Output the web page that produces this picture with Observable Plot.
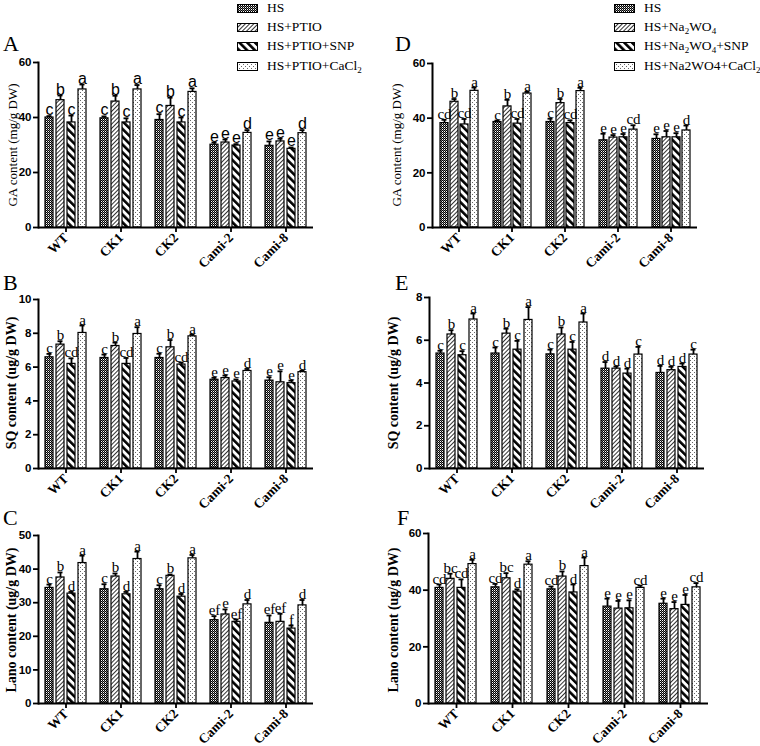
<!DOCTYPE html>
<html><head><meta charset="utf-8">
<script src="https://cdn.jsdelivr.net/npm/d3@7"></script>
<script src="https://cdn.jsdelivr.net/npm/@observablehq/plot@0.6"></script>
<style>
body{margin:0;background:#fff;}
#root{position:relative;width:760px;height:746px;overflow:hidden;font-family:"Liberation Serif","Times New Roman",serif;color:#000;}
.pl{position:absolute;font-size:22px;line-height:1;}
.ylab{position:absolute;transform:translate(-50%,-50%) rotate(-90deg);white-space:nowrap;font-size:13px;line-height:1;}
.ylab.b{font-weight:bold;font-size:14px;}
.lrow{position:absolute;height:16px;display:flex;align-items:center;font-size:13.5px;white-space:nowrap;line-height:16px;}
.lrow svg{margin-right:9px;}
.lrow sub{font-size:9px;vertical-align:-3px;line-height:0;}
</style></head>
<body>
<svg width="0" height="0" style="position:absolute">
<defs>
<pattern id="pHS" patternUnits="userSpaceOnUse" width="2" height="2">
 <rect width="2" height="2" fill="#fff"/>
 <rect x="0" y="0" width="1" height="1" fill="#000"/>
 <rect x="1" y="1" width="1" height="1" fill="#000"/>
 <rect x="1" y="0" width="1" height="1" fill="#777"/>
</pattern>
<pattern id="pPT" patternUnits="userSpaceOnUse" width="3" height="3" patternTransform="rotate(45)">
 <rect width="3" height="3" fill="#fff"/>
 <line x1="0.5" y1="0" x2="0.5" y2="3" stroke="#333" stroke-width="1"/>
</pattern>
<pattern id="pSNP" patternUnits="userSpaceOnUse" width="5.5" height="5.5" patternTransform="rotate(-45)">
 <rect width="5.5" height="5.5" fill="#fff"/>
 <line x1="1.3" y1="0" x2="1.3" y2="5.5" stroke="#000" stroke-width="2.6"/>
</pattern>
<pattern id="pCA" patternUnits="userSpaceOnUse" width="4" height="4">
 <rect width="4" height="4" fill="#fff"/>
 <rect x="0" y="0" width="1" height="1" fill="#666"/>
 <rect x="2" y="2" width="1" height="1" fill="#666"/>
</pattern>
</defs>
</svg>
<div id="root"></div>
<script>
// ---------- data ----------
const genotypes = ["WT", "CK1", "CK2", "Cami-2", "Cami-8"];
const treatPtio = ["HS", "HS+PTIO", "HS+PTIO+SNP", "HS+PTIO+CaCl2"];
const treatNa = ["HS", "HS+Na2WO4", "HS+Na2WO4+SNP", "HS+Na2WO4+CaCl2"];
const patternIds = ["url(#pHS)", "url(#pPT)", "url(#pSNP)", "url(#pCA)"];

// A: GA content (mg/g DW), PTIO series
const gaPtioMean = [[40.0,46.3,38.2,50.2],[39.7,45.8,38.2,50.2],[39.1,44.2,38.2,49.3],[30.1,30.9,29.8,34.4],[29.7,31.3,28.6,34.3]];
const gaPtioErr  = [[0.5,1.7,2.5,1.8],[0.7,2.1,1.5,1.6],[2.1,3.0,1.8,1.3],[0.8,1.1,0.5,1.0],[1.6,1.0,0.5,1.1]];
const gaPtioSig  = [["c","b","c","a"],["c","b","c","a"],["c","b","c","a"],["e","e","e","d"],["e","e","e","d"]];

// B: SQ content (ug/g DW), PTIO series
const sqPtioMean = [[6.58,7.33,6.19,8.02],[6.54,7.25,6.19,7.96],[6.54,7.17,6.15,7.82],[5.25,5.35,5.15,5.77],[5.2,5.1,5.05,5.7]];
const sqPtioErr  = [[0.2,0.2,0.33,0.44],[0.2,0.2,0.35,0.4],[0.25,0.43,0.12,0.1],[0.12,0.15,0.12,0.12],[0.2,0.65,0.15,0.08]];
const sqPtioSig  = [["c","b","cd","a"],["c","b","cd","a"],["c","b","cd","a"],["e","e","e","d"],["e","e","e","d"]];

// C: Lano content (ug/g DW), PTIO series
const lanoPtioMean = [[34.4,37.5,32.7,41.8],[34.0,37.8,32.5,43.0],[34.0,38.0,31.8,43.2],[24.8,26.5,24.3,29.5],[24.0,24.3,22.3,29.2]];
const lanoPtioErr  = [[1.0,1.5,0.5,2.2],[1.5,0.9,0.7,2.2],[1.2,0.4,0.8,1.0],[1.2,1.5,0.7,1.3],[2.2,2.4,0.9,1.6]];
const lanoPtioSig  = [["c","b","d","a"],["c","b","d","a"],["c","b","d","a"],["ef","e","ef","d"],["ef","ef","f","d"]];

// D: GA content (mg/g DW), Na2WO4 series
const gaNaMean = [[38.2,46.0,37.7,50.0],[38.6,44.3,38.0,49.0],[38.6,45.5,38.2,49.9],[31.9,32.9,33.0,35.8],[32.4,33.0,33.0,35.5]];
const gaNaErr  = [[1.2,1.0,2.0,1.2],[0.5,2.4,1.7,0.6],[1.2,1.5,1.0,1.2],[2.4,0.9,1.2,1.6],[1.7,2.3,1.5,1.8]];
const gaNaSig  = [["cd","b","cd","a"],["c","b","cd","a"],["c","b","cd","a"],["e","e","e","cd"],["e","e","e","d"]];

// E: SQ content (ug/g DW), Na2WO4 series
const sqNaMean = [[5.38,6.27,5.3,6.97],[5.38,6.31,5.56,6.95],[5.34,6.27,5.56,6.83],[4.67,4.67,4.44,5.33],[4.47,4.6,4.75,5.33]];
const sqNaErr  = [[0.13,0.2,0.19,0.28],[0.28,0.23,0.41,0.6],[0.22,0.33,0.36,0.42],[0.31,0.1,0.23,0.36],[0.33,0.16,0.16,0.23]];
const sqNaSig  = [["c","b","c","a"],["c","b","c","a"],["c","b","c","a"],["d","d","d","c"],["d","d","d","c"]];

// F: Lano content (ug/g DW), Na2WO4 series
const lanoNaMean = [[40.8,44.0,40.8,49.2],[41.0,44.2,39.5,49.0],[40.3,44.8,39.2,48.5],[34.2,33.5,33.6,40.8],[35.2,33.3,34.8,41.0]];
const lanoNaErr  = [[1.2,1.8,3.0,1.5],[1.2,1.8,0.8,1.2],[1.0,1.8,2.8,3.0],[2.8,2.7,2.8,0.8],[1.8,2.5,3.5,1.5]];
const lanoNaSig  = [["cd","bc","cd","a"],["cd","bc","d","a"],["cd","b","d","a"],["e","e","e","cd"],["e","e","e","cd"]];

const ticksGA = [0,20,40,60], ticksSQ10 = [0,2,4,6,8,10], ticksLano50 = [0,10,20,30,40,50], ticksSQ8 = [0,2,4,6,8];

// ---------- drawing ----------
const root = document.getElementById("root");
const SERIF = "Liberation Serif, Times New Roman, serif";
const SANS = "Liberation Sans, Arial, sans-serif";

function panel(c) {
  const rows = genotypes.flatMap((g, i) => c.treat.map((t, j) => ({
    g, t, pat: patternIds[j], mean: c.mean[i][j], err: c.err[i][j],
    top: c.mean[i][j] + c.err[i][j], sig: c.sig[i][j]
  })));
  const svg = Plot.plot({
    width: c.width, height: c.height,
    marginLeft: c.ml, marginRight: c.mr, marginTop: c.mt, marginBottom: c.mb,
    style: {background: "transparent", overflow: "visible"},
    fx: {domain: genotypes, padding: 0, label: null},
    x: {domain: c.treat, paddingInner: 0.25, paddingOuter: 0.55, axis: null},
    y: {domain: c.domain, label: null},
    color: {type: "identity"},
    marks: [
      Plot.barY(rows, {fx: "g", x: "t", y: "mean", fill: "pat", stroke: "#000", strokeWidth: 1.2}),
      Plot.ruleX(rows, {fx: "g", x: "t", y1: "mean", y2: "top", stroke: "#000", strokeWidth: 1.8}),
      Plot.tickY(rows, {fx: "g", x: "t", y: "top", stroke: "#000", strokeWidth: 1.8, insetLeft: 1.5, insetRight: 1.5}),
      Plot.text(rows, {fx: "g", x: "t", y: "top", text: "sig", lineAnchor: "bottom", dy: -1,
        fontSize: c.sigSize || 15, fontFamily: c.sigFont, fill: "#000"}),
      Plot.ruleY([0], {stroke: "#000", strokeWidth: 2}),
      Plot.frame({anchor: "left", facetAnchor: "left", stroke: "#000", strokeWidth: 2}),
      Plot.axisY({ticks: c.ticks, tickSize: 5, tickPadding: 2, strokeWidth: 1.8, fontSize: 11.5,
        fontWeight: "bold", fontFamily: SANS, label: null, tickFormat: d => String(d)}),
      Plot.axisFx({anchor: "bottom", tickSize: 5, tickPadding: 3, tickRotate: -45, strokeWidth: 1.8, fontSize: 13.5,
        fontWeight: "bold", fontFamily: SERIF, label: null})
    ]
  });
  svg.style.position = "absolute";
  svg.style.left = c.left + "px";
  svg.style.top = c.top + "px";
  root.appendChild(svg);
}

const L = {left: 0, width: 320, ml: 38, mr: 7, treat: treatPtio, sigFont: SERIF};
panel({...L, top: 40, height: 239, mt: 22, mb: 52, domain: [0,60], ticks: ticksGA,
  mean: gaPtioMean, err: gaPtioErr, sig: gaPtioSig, sigFont: SANS, sigSize: 16});
panel({...L, top: 280, height: 238, mt: 19, mb: 50, domain: [0,10], ticks: ticksSQ10,
  mean: sqPtioMean, err: sqPtioErr, sig: sqPtioSig});
panel({...L, top: 515, height: 231, mt: 20, mb: 43, domain: [0,50], ticks: ticksLano50,
  mean: lanoPtioMean, err: lanoPtioErr, sig: lanoPtioSig});

const R = {left: 380, treat: treatNa, sigFont: SERIF};
panel({...R, top: 40, width: 330, ml: 50, mr: 12, height: 237, mt: 23, mb: 50, domain: [0,60], ticks: ticksGA,
  mean: gaNaMean, err: gaNaErr, sig: gaNaSig});
panel({...R, top: 280, width: 335, ml: 47, mr: 10, height: 238, mt: 17, mb: 50, domain: [0,8], ticks: ticksSQ8,
  mean: sqNaMean, err: sqNaErr, sig: sqNaSig});
panel({...R, top: 515, width: 338, ml: 48, mr: 10, height: 231, mt: 18, mb: 43, domain: [0,60], ticks: ticksGA,
  mean: lanoNaMean, err: lanoNaErr, sig: lanoNaSig});

// panel letters
[["A",3,33],["B",3,272],["C",3,507],["D",395,33],["E",395,272],["F",397,507]].forEach(([t,x,y]) => {
  const d = document.createElement("div"); d.className = "pl"; d.textContent = t;
  d.style.left = x + "px"; d.style.top = y + "px"; root.appendChild(d);
});

// y labels
[["GA content (mg/g DW)",12,145,false],["SQ content (ug/g DW)",12,383,true],["Lano content (ug/g DW)",12,620,true],
 ["GA content (mg/g DW)",396,145,false],["SQ content (ug/g DW)",394,383,true],["Lano content (ug/g DW)",394,620,true]
].forEach(([t,x,y,b]) => {
  const d = document.createElement("div"); d.className = "ylab" + (b ? " b" : ""); d.textContent = t;
  d.style.left = x + "px"; d.style.top = y + "px"; root.appendChild(d);
});

// legends
const legendLeft = ["HS", "HS+PTIO", "HS+PTIO+SNP", "HS+PTIO+CaCl<sub>2</sub>"];
const legendRight = ["HS", "HS+Na<sub>2</sub>WO<sub>4</sub>", "HS+Na<sub>2</sub>WO<sub>4</sub>+SNP", "HS+Na2WO4+CaCl<sub>2</sub>"];
const rowY = [8, 27, 46, 66];
function legend(labels, x) {
  labels.forEach((lab, j) => {
    const r = document.createElement("div"); r.className = "lrow";
    r.style.left = x + "px"; r.style.top = (rowY[j] - 8) + "px";
    r.innerHTML = `<svg width="21" height="9"><rect x="0.5" y="0.5" width="20" height="8" fill="${patternIds[j]}" stroke="#000" stroke-width="1"/></svg><span>${lab}</span>`;
    root.appendChild(r);
  });
}
legend(legendLeft, 237);
legend(legendRight, 614);
</script>
</body></html>
